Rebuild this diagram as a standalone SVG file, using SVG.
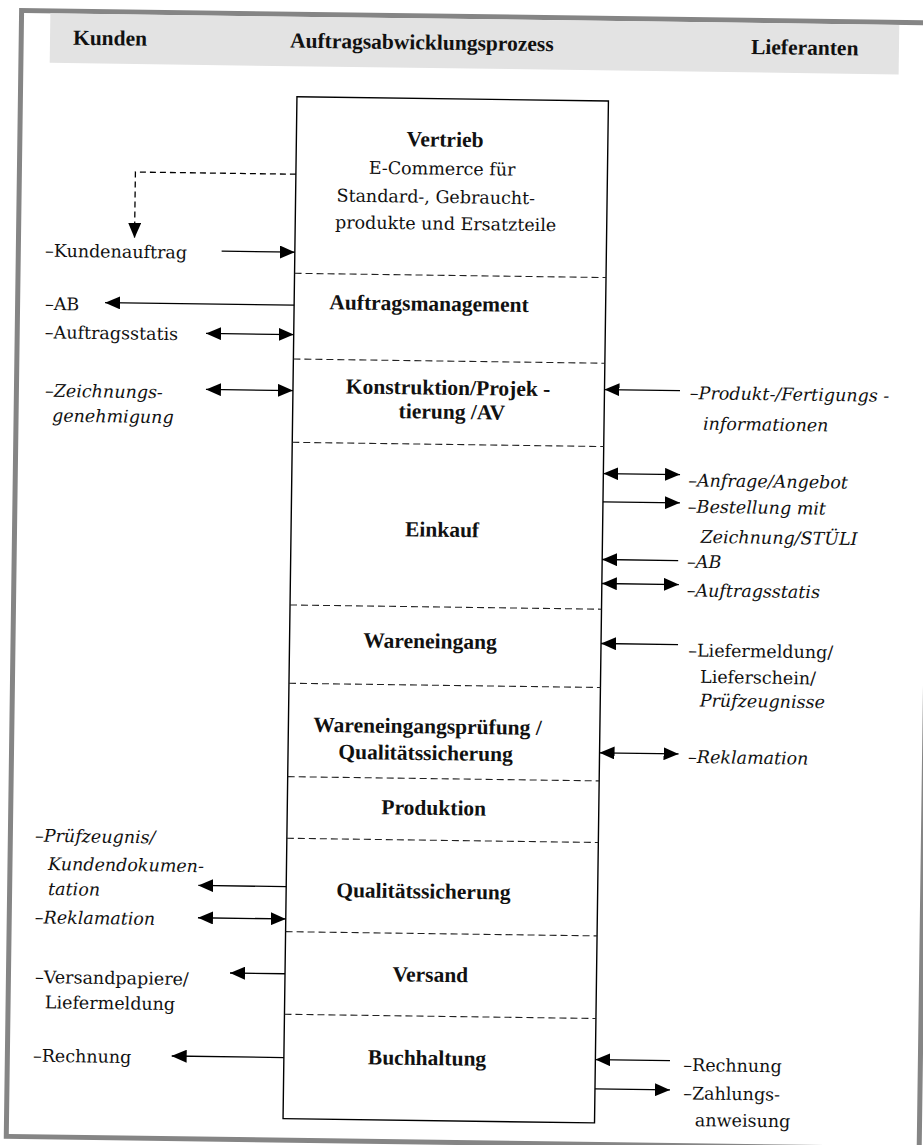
<svg xmlns="http://www.w3.org/2000/svg" width="923" height="1145" viewBox="0 0 923 1145">
<style>
.reg{font-family:"DejaVu Serif","Liberation Serif",serif;font-size:17.5px;fill:#111}
.it{font-style:italic}
.lbl{font-family:"Liberation Serif",serif;font-weight:bold;font-size:21.5px;fill:#111;text-anchor:middle}
.hdr{font-family:"Liberation Serif",serif;font-weight:bold;font-size:21.5px;fill:#111}
.ctr{text-anchor:middle}
.sep{stroke:#222;stroke-width:1.1;stroke-dasharray:7 4;fill:none}
.arr{stroke:#000;stroke-width:1.3;fill:none;marker-end:url(#ah)}
.dbl{marker-start:url(#ah)}
.dash{stroke-dasharray:6 4}
</style>
<defs>
<marker id="ah" markerWidth="15" markerHeight="13" refX="15" refY="6.5" orient="auto-start-reverse" markerUnits="userSpaceOnUse">
<path d="M0,0 L15,6.5 L0,13 z" fill="#000" stroke="none"/>
</marker>
</defs>
<rect width="923" height="1145" fill="#fff"/>
<g transform="rotate(0.78 461 572)">
<g id="frame">
<rect x="14" y="16.5" width="913" height="1126" fill="none" stroke="#858585" stroke-width="5"/>
<rect x="42.8" y="19" width="849" height="49.5" fill="#e3e3e3"/>
<text class="hdr" x="65.8" y="50">Kunden</text>
<text class="hdr" x="282.8" y="50">Auftragsabwicklungsprozess</text>
<text class="hdr" x="743.8" y="50">Lieferanten</text>
</g>
<g id="process-box">
<rect x="290.5" y="99" width="311.5" height="1022" fill="none" stroke="#000" stroke-width="1.4"/>
</g>
<g id="vertrieb">
<text class="lbl" x="439.2" y="146.9">Vertrieb</text>
<text class="reg ctr" x="436.6" y="175">E-Commerce für</text>
<text class="reg ctr" x="430.7" y="203.3">Standard-, Gebraucht-</text>
<text class="reg ctr" x="440.9" y="230">produkte und Ersatzteile</text>
</g>
<g id="auftragsmanagement">
<line class="sep" x1="290.5" y1="275.6" x2="602" y2="275.6"/>
<text class="lbl" x="425.4" y="311.1">Auftragsmanagement</text>
</g>
<g id="konstruktion">
<line class="sep" x1="290.5" y1="361.3" x2="602" y2="361.3"/>
<text class="lbl" x="445.6" y="395">Konstruktion/Projek -</text>
<text class="lbl" x="449.8" y="419">tierung /AV</text>
</g>
<g id="einkauf">
<line class="sep" x1="290.5" y1="444.6" x2="602" y2="444.6"/>
<text class="lbl" x="441.5" y="537">Einkauf</text>
</g>
<g id="wareneingang">
<line class="sep" x1="290.5" y1="607.3" x2="602" y2="607.3"/>
<text class="lbl" x="431" y="648.7">Wareneingang</text>
</g>
<g id="wareneingangspruefung">
<line class="sep" x1="290.5" y1="685.6" x2="602" y2="685.6"/>
<text class="lbl" x="429.7" y="733.8">Wareneingangsprüfung /</text>
<text class="lbl" x="428" y="760.5">Qualitätssicherung</text>
</g>
<g id="produktion">
<line class="sep" x1="290.5" y1="779" x2="602" y2="779"/>
<text class="lbl" x="437" y="815.3">Produktion</text>
</g>
<g id="qualitaetssicherung">
<line class="sep" x1="290.5" y1="840.6" x2="602" y2="840.6"/>
<text class="lbl" x="427.8" y="898.8">Qualitätssicherung</text>
</g>
<g id="versand">
<line class="sep" x1="290.5" y1="934" x2="602" y2="934"/>
<text class="lbl" x="435.8" y="982.1">Versand</text>
</g>
<g id="buchhaltung">
<line class="sep" x1="290.5" y1="1016.6" x2="602" y2="1016.6"/>
<text class="lbl" x="433.7" y="1065.5">Buchhaltung</text>
</g>
<g id="kunden-labels">
<text class="reg" x="40.7" y="262.4">–Kundenauftrag</text>
<text class="reg" x="41.4" y="315.7">–AB</text>
<text class="reg" x="41.7" y="344">–Auftragsstatis</text>
<text class="reg it" x="42.6" y="402.4">–Zeichnungs-</text>
<text class="reg it" x="50" y="427.2">genehmigung</text>
<text class="reg it" x="38.7" y="847.5">–Prüfzeugnis/</text>
<text class="reg it" x="52.1" y="875.6">Kundendokumen-</text>
<text class="reg it" x="52.5" y="900.6">tation</text>
<text class="reg it" x="39.6" y="929.1">–Reklamation</text>
<text class="reg" x="40.6" y="988.8">–Versandpapiere/</text>
<text class="reg" x="50.8" y="1014">Liefermeldung</text>
<text class="reg" x="39.6" y="1067.5">–Rechnung</text>
</g>
<g id="lieferanten-labels">
<text class="reg it" x="687.5" y="396">–Produkt-/Fertigungs -</text>
<text class="reg it" x="701" y="426.5">informationen</text>
<text class="reg it" x="687" y="483.3">–Anfrage/Angebot</text>
<text class="reg it" x="687" y="509.6">–Bestellung mit</text>
<text class="reg it" x="700" y="539.6">Zeichnung/STÜLI</text>
<text class="reg it" x="687" y="564.6">–AB</text>
<text class="reg it" x="687" y="593.3">–Auftragsstatis</text>
<text class="reg" x="689.3" y="653.3">–Liefermeldung/</text>
<text class="reg" x="701.5" y="679.6">Lieferschein/</text>
<text class="reg it" x="701.5" y="703.3">Prüfzeugnisse</text>
<text class="reg it" x="690.6" y="759.9">–Reklamation</text>
<text class="reg" x="690" y="1067.9">–Rechnung</text>
<text class="reg" x="690.3" y="1096.2">–Zahlungs-</text>
<text class="reg" x="702.4" y="1122.9">anweisung</text>
</g>
<g id="connectors">
<path class="arr dash" d="M290.5,176.5 H130 V242.5"/>
<path class="arr" d="M217.3,254.5 H290.5"/>
<path class="arr" d="M290.5,307.5 H101.4"/>
<path class="arr dbl" d="M202.8,336.9 H290.5"/>
<path class="arr dbl" d="M203.5,392.9 H290.5"/>
<path class="arr" d="M677.5,387.6 H602"/>
<path class="arr dbl" d="M602,471.6 H678.7"/>
<path class="arr" d="M602,499.9 H679"/>
<path class="arr" d="M678,557.6 H602"/>
<path class="arr dbl" d="M602,581.6 H679"/>
<path class="arr" d="M679,641.6 H602"/>
<path class="arr dbl" d="M602,750.9 H681"/>
<path class="arr" d="M290.5,889 H202.6"/>
<path class="arr dbl" d="M202.7,921.3 H290.5"/>
<path class="arr" d="M290.5,976.1 H235.5"/>
<path class="arr" d="M290.5,1059.9 H178.3"/>
<path class="arr" d="M676.6,1057.7 H602"/>
<path class="arr" d="M602,1087 H677"/>
</g>
</g>
</svg>
